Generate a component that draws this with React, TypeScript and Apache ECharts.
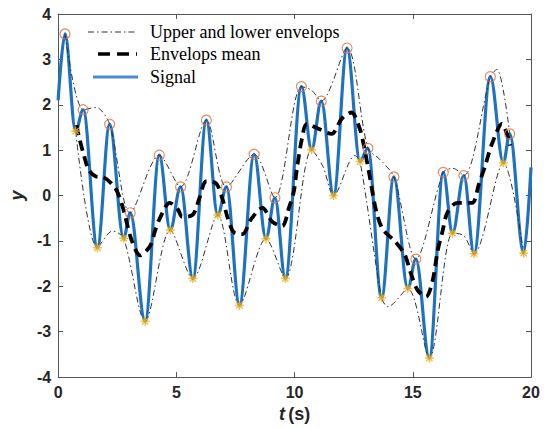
import React, { useEffect, useRef } from "react";
import * as echarts from "echarts";

// Local maxima of the signal (t, y) – orange circles
const maxima: number[][] = [
  [0.29, 3.56], [1.06, 1.89], [2.18, 1.57], [3.05, -0.38], [4.28, 0.89],
  [5.18, 0.19], [6.27, 1.66], [7.12, 0.19], [8.29, 0.91], [9.17, -0.05],
  [10.29, 2.4], [11.13, 2.08], [12.22, 3.25], [13.1, 1.04], [14.2, 0.41],
  [15.13, -1.4], [16.29, 0.51], [17.16, 0.44], [18.28, 2.62], [19.1, 1.36],
];

// Local minima of the signal (t, y) – yellow asterisks
const minima: number[][] = [
  [0.74, 1.42], [1.66, -1.15], [2.77, -0.94], [3.68, -2.77], [4.74, -0.76],
  [5.7, -1.83], [6.75, -0.43], [7.67, -2.42], [8.79, -0.95], [9.61, -1.83],
  [10.72, 1.01], [11.65, 0.0], [12.77, 0.75], [13.68, -2.25], [14.79, -2.05],
  [15.7, -3.58], [16.68, -0.83], [17.59, -1.28], [18.83, 0.72], [19.69, -1.27],
];

// Signal end points (t, y)
const signalStart: number[] = [0, 2.1];
const signalEnd: number[] = [20, 0.62];

// Extra points read along the envelope curves between extrema
const upperExtra: number[][] = [
  [1.6, 1.94], [10.72, 2.32], [13.6, 0.8], [16.7, 0.6], [18.56, 2.78],
];
const lowerExtra: number[][] = [
  [2.3, -0.78], [11.2, 0.64], [12.55, 0.88], [13.95, -2.45], [17.15, -0.88],
];

// Envelope mean
const envelopeMean: number[][] = [
  [0.78, 1.55], [0.88, 1.3], [1.09, 0.89], [1.3, 0.56], [1.6, 0.42],
  [1.93, 0.4], [2.42, 0.16], [2.7, -0.2], [3.12, -1.0], [3.47, -1.32],
  [3.89, -1.11], [4.1, -0.78], [4.31, -0.49], [4.72, -0.16], [5.07, -0.31],
  [5.25, -0.47], [5.7, -0.42], [5.98, -0.05], [6.26, 0.31], [6.68, 0.27],
  [6.96, -0.09], [7.17, -0.49], [7.45, -0.82], [7.8, -0.85], [8.15, -0.53],
  [8.64, -0.27], [9.06, -0.58], [9.48, -0.67], [9.76, -0.27], [9.97, 0.09],
  [10.1, 0.6], [10.31, 1.25], [10.52, 1.58], [11.01, 1.47], [11.57, 1.36],
  [11.99, 1.69], [12.41, 1.83], [12.76, 1.47], [12.9, 1.18], [13.18, 0.42],
  [13.46, -0.36], [13.74, -0.75], [14.23, -1.0], [14.65, -1.29], [14.93, -1.73],
  [15.21, -2.09], [15.56, -2.23], [15.84, -1.87], [16.05, -1.22], [16.26, -0.78],
  [16.46, -0.38], [16.88, -0.16], [17.51, -0.16], [17.79, 0.24], [18.07, 0.67],
  [18.35, 1.14], [18.77, 1.58], [19.05, 1.25], [19.12, 1.1],
];

const legendNames: string[] = ["Upper and lower envelops", "Envelops mean", "Signal"];

const byT = (a: number[], b: number[]) => a[0] - b[0];

const SIGNAL_COLOR = "#1f72c0";
const ENV_COLOR = "#333";
const STAR_PATH =
  "path://M5,0L5,10M0,5L10,5M1.5,1.5L8.5,8.5M1.5,8.5L8.5,1.5";

export default function App() {
  const ref = useRef<HTMLDivElement>(null);

  useEffect(() => {
    if (!ref.current) return;
    const chart = echarts.init(ref.current, undefined, { renderer: "svg" });

    const signal = [signalStart, ...[...maxima, ...minima].sort(byT), signalEnd];
    const upper = [...maxima, ...upperExtra].sort(byT);
    const lower = [...minima, ...lowerExtra].sort(byT);

    const tickLabel = {
      fontFamily: "Liberation Sans",
      fontWeight: "bold" as const,
      fontSize: 16,
      color: "#262626",
    };
    const axisLine = { show: true, onZero: false, lineStyle: { color: "#555", width: 1 } };
    const axisTick = { show: true, inside: true, length: 5, lineStyle: { color: "#555" } };

    const legendY = [32, 54, 77];

    chart.setOption({
      animation: false,
      backgroundColor: "#fff",
      grid: { left: 54, top: 14, right: 16, bottom: 47, containLabel: false },
      xAxis: [
        {
          type: "value",
          min: 0,
          max: 20,
          interval: 5,
          axisLine,
          axisTick,
          splitLine: { show: false },
          axisLabel: { ...tickLabel, margin: 7 },
          name: "{it|t} {n|(s)}",
          nameLocation: "middle",
          nameGap: 22,
          nameTextStyle: {
            rich: {
              it: { fontFamily: "Liberation Sans", fontStyle: "italic", fontWeight: "bold", fontSize: 18, color: "#262626" },
              n: { fontFamily: "Liberation Sans", fontWeight: "bold", fontSize: 18, color: "#262626" },
            },
          },
        },
        {
          type: "value",
          position: "top",
          min: 0,
          max: 20,
          interval: 5,
          axisLine,
          axisTick,
          axisLabel: { show: false },
          splitLine: { show: false },
        },
      ],
      yAxis: [
        {
          type: "value",
          min: -4,
          max: 4,
          interval: 1,
          axisLine,
          axisTick,
          splitLine: { show: false },
          axisLabel: { ...tickLabel, margin: 7 },
          name: "y",
          nameLocation: "middle",
          nameGap: 28,
          nameTextStyle: {
            fontFamily: "Liberation Sans",
            fontStyle: "italic",
            fontWeight: "bold",
            fontSize: 18,
            color: "#262626",
          },
        },
        {
          type: "value",
          position: "right",
          min: -4,
          max: 4,
          interval: 1,
          axisLine,
          axisTick,
          axisLabel: { show: false },
          splitLine: { show: false },
        },
      ],
      series: [
        {
          name: legendNames[2],
          type: "line",
          data: signal,
          smooth: 0.36,
          smoothMonotone: "x",
          symbol: "none",
          lineStyle: { color: SIGNAL_COLOR, width: 3.2 },
          z: 2,
        },
        {
          name: legendNames[0],
          type: "line",
          data: upper,
          smooth: 0.3,
          symbol: "none",
          lineStyle: { color: ENV_COLOR, width: 1, type: [6, 3, 1.5, 3] },
          z: 3,
        },
        {
          name: legendNames[0],
          type: "line",
          data: lower,
          smooth: 0.3,
          symbol: "none",
          lineStyle: { color: ENV_COLOR, width: 1, type: [6, 3, 1.5, 3] },
          z: 3,
        },
        {
          name: legendNames[1],
          type: "line",
          data: envelopeMean,
          smooth: 0.3,
          symbol: "none",
          lineStyle: { color: "#000", width: 3.8, type: [10, 6] },
          z: 4,
        },
        {
          name: "maxima",
          type: "scatter",
          data: maxima,
          symbol: "circle",
          symbolSize: 10,
          itemStyle: { color: "rgba(0,0,0,0)", borderColor: "#E0703A", borderWidth: 1.2 },
          z: 5,
        },
        {
          name: "minima",
          type: "scatter",
          data: minima,
          symbol: STAR_PATH,
          symbolSize: 9,
          itemStyle: { color: "#EDB120", borderColor: "#EDB120", borderWidth: 1.5 },
          z: 6,
        },
      ],
      graphic: [
        {
          type: "line",
          shape: { x1: 88, y1: legendY[0], x2: 136, y2: legendY[0] },
          style: { stroke: ENV_COLOR, lineWidth: 1.2, lineDash: [6, 3, 1.5, 3] },
        },
        {
          type: "line",
          shape: { x1: 98, y1: legendY[1], x2: 137, y2: legendY[1] },
          style: { stroke: "#000", lineWidth: 3.5, lineDash: [12, 7] },
        },
        {
          type: "line",
          shape: { x1: 93, y1: legendY[2], x2: 138, y2: legendY[2] },
          style: { stroke: "#4a8ad6", lineWidth: 3 },
        },
        ...legendNames.map((name, i) => ({
          type: "text",
          x: 150,
          y: legendY[i],
          style: {
            text: name,
            fontFamily: "Liberation Serif",
            fontSize: 18,
            fill: "#000",
            verticalAlign: "middle",
            textAlign: "left",
          },
        })),
      ],
    });

    return () => chart.dispose();
  }, []);

  return (
    <div
      ref={ref}
      style={{ position: "fixed", left: 0, top: 0, width: 547, height: 428 }}
    />
  );
}
